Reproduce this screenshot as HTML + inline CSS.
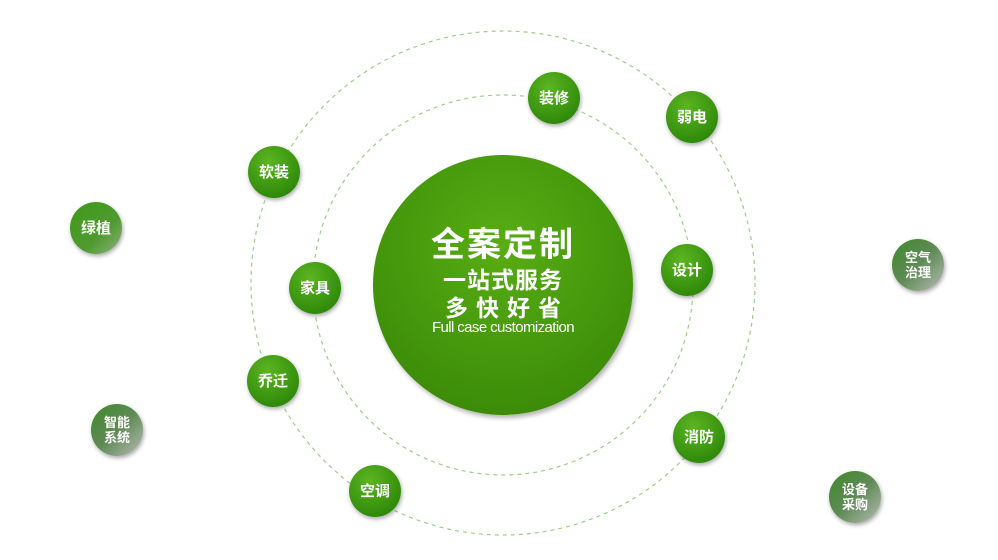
<!DOCTYPE html>
<html><head><meta charset="utf-8"><style>
body{margin:0;width:998px;height:560px;background:#fff;overflow:hidden;position:relative;font-family:"Liberation Sans","Noto Sans CJK SC",sans-serif}
.n{position:absolute;width:52px;height:52px;border-radius:50%;color:#fff;font-weight:bold;font-size:15px;display:flex;align-items:center;justify-content:center;text-align:center;line-height:17px;box-shadow:1px 2px 4px rgba(0,0,0,.35);background:radial-gradient(circle at 40% 30%,#5cb521,#2f8a0a 75%,#2a7a08)}
.g{font-size:13px;line-height:15px;background:linear-gradient(135deg,#3d8a2a 0%,#5f8a55 50%,#b8bcb6 100%)}
.c{position:absolute;left:373px;top:155px;width:260px;height:260px;border-radius:50%;background:radial-gradient(circle at 50% 35%,#58ad14,#3f9009 70%,#358008);box-shadow:2px 3px 5px rgba(0,0,0,.3);color:#fff;text-align:center;font-weight:bold}
</style></head><body>
<svg width="998" height="560" style="position:absolute;left:0;top:0">
<circle cx="503" cy="285" r="190" fill="none" stroke="#9ccf88" stroke-width="1.2" stroke-dasharray="4 4"/>
<circle cx="503" cy="283" r="252" fill="none" stroke="#9ccf88" stroke-width="1.2" stroke-dasharray="4 4"/>
</svg>
<div class="c">
<div style="position:absolute;top:62px;width:100%;font-size:34px;letter-spacing:2px">全案定制</div>
<div style="position:absolute;top:106px;width:100%;font-size:23px;letter-spacing:1px">一站式服务</div>
<div style="position:absolute;top:134px;width:100%;font-size:23px;letter-spacing:8px;text-indent:8px">多快好省</div>
<div style="position:absolute;top:164px;width:100%;font-size:15px;font-weight:normal;letter-spacing:-0.6px">Full case customization</div>
</div>
<div class="n" style="left:528px;top:72px">装修</div>
<div class="n" style="left:666px;top:91px">弱电</div>
<div class="n" style="left:248px;top:146px">软装</div>
<div class="n" style="left:289px;top:262px">家具</div>
<div class="n" style="left:661px;top:244px">设计</div>
<div class="n" style="left:247px;top:355px">乔迁</div>
<div class="n" style="left:673px;top:411px">消防</div>
<div class="n" style="left:349px;top:465px">空调</div>
<div class="n g" style="left:70px;top:202px;font-size:15px;background:linear-gradient(135deg,#3e9a16,#4f9a30 60%,#8fb080)">绿植</div>
<div class="n g" style="left:892px;top:239px">空气<br>治理</div>
<div class="n g" style="left:91px;top:404px">智能<br>系统</div>
<div class="n g" style="left:829px;top:471px">设备<br>采购</div>
</body></html>
